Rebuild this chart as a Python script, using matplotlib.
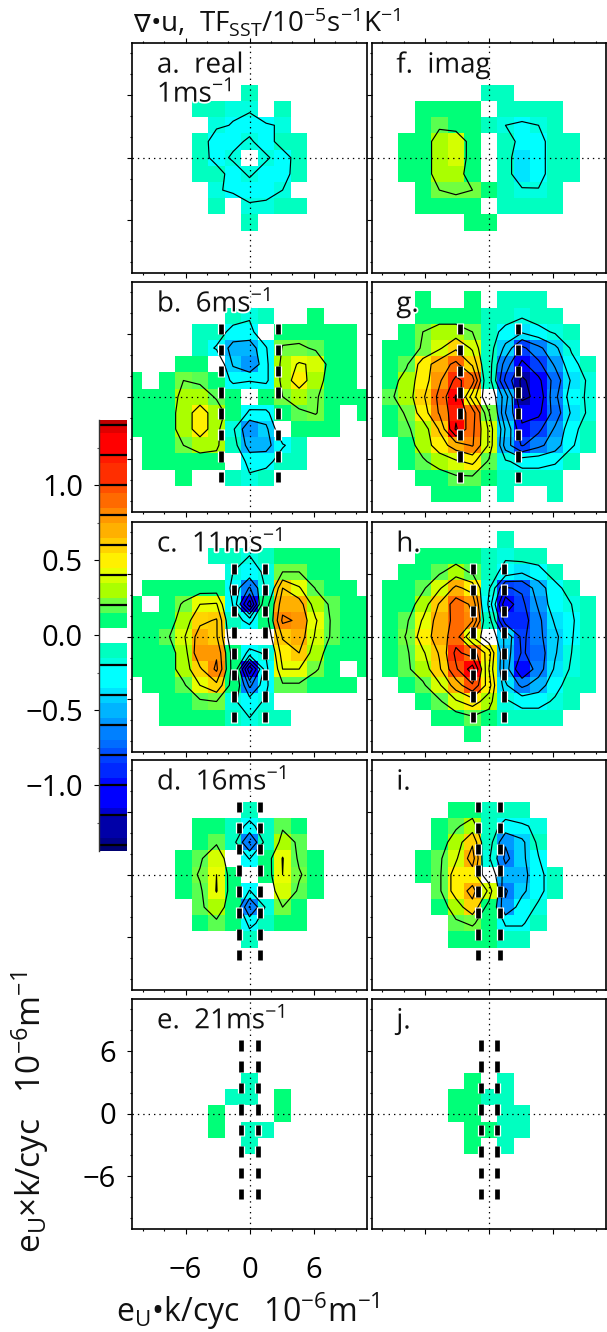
import numpy as np
import matplotlib
matplotlib.use("Agg")
import matplotlib.pyplot as plt
import matplotlib.patheffects as pe
from matplotlib.colors import ListedColormap, BoundaryNorm

W, H = 607, 1332
plt.rcParams['font.family'] = ['Open Sans', 'DejaVu Sans']
plt.rcParams['mathtext.fontset'] = 'custom'
plt.rcParams['mathtext.rm'] = 'Open Sans'
plt.rcParams['mathtext.default'] = 'regular'

# wavenumber bins, one per cell, -7..7 times the bin width
bin_index = [-7, -6, -5, -4, -3, -2, -1, 0, 1, 2, 3, 4, 5, 6, 7]
bin_width = 1.55
empty = [0] * 15

# cell values in 0.01 units, rows from top (+7) to bottom (-7)
panel_a = [empty, empty, empty,
           [0, 0, 0, 0, 0, 0, 0, -10, 0, 0, 0, 0, 0, 0, 0],
           [0, 0, 0, 0, -10, -10, -17, -18, 0, -10, 0, 0, 0, 0, 0],
           [0, 0, 0, 0, 0, -17, -21, -27, -23, -17, 0, 0, 0, 0, 0],
           [0, 0, 0, 0, -10, -30, -25, -17, -30, -10, -10, 0, 0, 0, 0],
           [0, 0, 0, 0, -10, -28, -17, 0, -17, -30, -10, 0, 0, 0, 0],
           [0, 0, 0, 0, -10, -10, -30, -17, -30, -28, -10, 0, 0, 0, 0],
           [0, 0, 0, 0, 0, -17, -25, -30, -25, -20, 0, 0, 0, 0, 0],
           [0, 0, 0, 0, 0, -10, 0, -17, -17, -10, -10, 0, 0, 0, 0],
           [0, 0, 0, 0, 0, 0, 0, -10, 0, 0, 0, 0, 0, 0, 0],
           empty, empty, empty]
panel_f = [empty, empty, empty,
           [0, 0, 0, 0, 0, 0, 0, -10, -10, 0, 0, 0, 0, 0, 0],
           [0, 0, 0, 10, 10, 10, 10, 0, -10, -10, -10, -10, 0, 0, 0],
           [0, 0, 0, 10, 17, 10, 10, -10, -20, -23, -20, -10, 0, 0, 0],
           [0, 0, 10, 10, 29, 37, 10, 0, -10, -27, -27, -10, -10, 0, 0],
           [0, 0, 10, 10, 29, 37, 10, 0, -10, -37, -27, -10, -10, 0, 0],
           [0, 0, 10, 10, 29, 29, 10, 0, -10, -37, -27, -10, -10, 0, 0],
           [0, 0, 0, 10, 20, 24, 20, 10, -10, -17, -19, -10, 0, 0, 0],
           [0, 0, 0, 10, 10, 10, 10, 0, -10, -10, -10, -10, 0, 0, 0],
           [0, 0, 0, 0, 0, 0, 10, 10, 0, 0, 0, 0, 0, 0, 0],
           empty, empty, empty]
panel_b = [empty, empty,
           [0, 0, 0, 0, 0, 0, -10, -17, -10, 0, 0, 10, 0, 0, 0],
           [0, 0, 0, 0, -10, -10, -27, -27, 0, 10, 10, 10, 10, 10, 0],
           [0, 0, 0, 0, -10, -22, -48, -52, -22, 22, 24, 17, 10, 10, 0],
           [0, 0, 0, 10, 10, 0, -42, -58, -27, 29, 42, 37, 10, 10, 0],
           [10, 0, 10, 20, 17, 10, -27, -21, -27, 29, 50, 29, 10, 10, 0],
           [10, 10, 10, 25, 29, 18, 10, 0, 10, 20, 29, 22, 10, 10, 10],
           [10, 10, 10, 29, 50, 29, 10, -25, -27, 10, 17, 21, 10, 0, 10],
           [10, 10, 10, 29, 50, 29, -17, -58, -45, 0, 10, 10, 10, 0, 0],
           [0, 10, 10, 20, 29, 25, -10, -50, -48, -22, -10, 0, 0, 0, 0],
           [0, 10, 10, 10, 10, 10, 0, -27, -27, -10, -10, 0, 0, 0, 0],
           [0, 0, 0, 10, 0, 0, -10, -17, -10, 0, 0, 0, 0, 0, 0],
           empty, empty]
panel_g = [empty,
           [0, 0, 0, 10, 0, 0, 10, 0, -10, -10, -10, 0, 0, 0, 0],
           [0, 0, 0, 10, 10, 10, 10, -10, -10, -17, -10, -10, 0, 0, 0],
           [0, 0, 10, 20, 29, 29, 20, -10, -27, -37, -27, -17, -10, 0, 0],
           [0, 10, 10, 22, 37, 57, 37, -10, -45, -85, -65, -45, -17, 0, 0],
           [0, 10, 17, 50, 70, 85, 57, -10, -70, -105, -85, -57, -27, -10, 0],
           [0, 10, 29, 50, 77, 105, 90, -10, -85, -125, -105, -72, -37, -17, 0],
           [0, 17, 29, 57, 85, 122, 50, 0, -50, -125, -115, -65, -30, -17, 0],
           [0, 10, 22, 50, 82, 115, 90, 22, -60, -105, -105, -72, -37, -17, 0],
           [0, 10, 17, 29, 62, 123, 85, 37, -42, -97, -85, -57, -27, -10, 0],
           [0, 0, 10, 29, 50, 70, 82, 37, -50, -82, -65, -50, -22, -10, 0],
           [0, 0, 10, 17, 29, 37, 45, 17, -17, -27, -27, -22, -10, 0, 0],
           [0, 0, 0, 10, 10, 17, 17, 10, -10, -10, -10, -10, 0, 0, 0],
           [0, 0, 0, 0, 10, 10, 10, 0, -10, 0, 0, -10, 0, 0, 0],
           empty]
panel_c = [empty, empty,
           [0, 0, 0, 0, 0, -10, -10, -20, -10, 10, 10, 10, 10, 0, 0],
           [0, 0, 0, 0, 0, 0, -20, -27, -17, 20, 20, 10, 10, 0, 0],
           [0, 10, 10, 10, 10, 10, -27, -62, -17, 60, 42, 19, 10, 10, 0],
           [10, 0, 10, 22, 40, 42, -22, -112, 10, 72, 70, 29, 17, 10, 10],
           [10, 10, 10, 29, 55, 62, -10, -27, 10, 84, 77, 42, 17, 10, 10],
           [10, 10, 17, 37, 70, 62, 0, 0, 0, 62, 72, 37, 17, 10, 10],
           [10, 10, 10, 29, 77, 77, 10, -27, -17, 50, 60, 29, 10, 10, 10],
           [10, 10, 10, 29, 57, 84, 10, -115, -27, 40, 40, 22, 10, 0, 10],
           [0, 10, 10, 17, 40, 55, 10, -65, -25, 17, 17, 10, 10, 10, 0],
           [0, 0, 10, 10, 17, 20, -17, -30, -17, 0, 0, 0, 0, 0, 0],
           [0, 0, 10, 10, 10, 10, -10, -20, -10, -10, 0, 0, 0, 0, 0],
           empty, empty]
panel_h = [empty,
           [0, 0, 0, 0, 0, 0, 0, 0, -10, 0, 0, 0, 0, 0, 0],
           [0, 0, 0, 10, 10, 10, 10, -10, -17, -10, -10, 0, 0, 0, 0],
           [0, 0, 10, 10, 17, 29, 17, -10, -27, -37, -27, -10, 0, 0, 0],
           [0, 10, 10, 17, 37, 65, 52, -17, -82, -77, -50, -27, -10, 0, 0],
           [0, 10, 10, 29, 62, 90, 77, -27, -115, -85, -57, -27, -20, -10, 0],
           [0, 10, 17, 42, 70, 85, 82, -10, -90, -90, -65, -37, -22, -10, 0],
           [0, 10, 21, 50, 70, 90, 40, 0, -45, -85, -65, -45, -21, -10, 0],
           [0, 10, 17, 37, 62, 105, 90, 50, -50, -82, -72, -42, -20, -10, 0],
           [0, 10, 17, 29, 57, 97, 130, 40, -50, -100, -70, -37, -17, -10, 0],
           [0, 0, 10, 17, 37, 70, 97, 50, -37, -65, -50, -27, -10, -10, 0],
           [0, 0, 0, 10, 17, 37, 50, 29, -17, -27, -27, -17, -10, 0, 0],
           [0, 0, 0, 0, 10, 10, 17, 10, -10, -10, -10, -10, 0, 0, 0],
           [0, 0, 0, 0, 0, 0, 10, 0, 0, 0, 0, 0, 0, 0, 0],
           empty]
panel_d = [empty, empty, empty,
           [0, 0, 0, 0, 0, 0, 0, -10, 0, 0, 0, 0, 0, 0, 0],
           [0, 0, 0, 0, 10, 10, -10, -25, -10, 17, 10, 0, 0, 0, 0],
           [0, 0, 0, 0, 10, 17, -12, -62, -12, 29, 17, 0, 0, 0, 0],
           [0, 0, 0, 10, 17, 37, 0, -21, 10, 41, 17, 10, 0, 0, 0],
           [0, 0, 0, 10, 22, 40, 10, 0, 10, 40, 22, 10, 0, 0, 0],
           [0, 0, 0, 10, 17, 41, 10, -21, 0, 37, 17, 10, 0, 0, 0],
           [0, 0, 0, 0, 17, 29, 10, -62, -17, 20, 10, 0, 0, 0, 0],
           [0, 0, 0, 0, 10, 17, 10, -25, -12, 10, 10, 0, 0, 0, 0],
           [0, 0, 0, 0, 0, 0, 0, -10, 0, 0, 0, 0, 0, 0, 0],
           empty, empty, empty]
panel_i = [empty, empty, empty,
           [0, 0, 0, 0, 0, 10, 10, -10, -10, -10, 0, 0, 0, 0, 0],
           [0, 0, 0, 0, 10, 17, 29, -10, -27, -22, -17, 0, 0, 0, 0],
           [0, 0, 0, 0, 10, 30, 57, -10, -58, -45, -15, 0, 0, 0, 0],
           [0, 0, 0, 10, 17, 37, 70, -17, -65, -45, -21, 0, 0, 0, 0],
           [0, 0, 0, 10, 17, 50, 50, 0, -50, -48, -25, -10, 0, 0, 0],
           [0, 0, 0, 0, 17, 50, 65, 37, -62, -45, -25, -10, 0, 0, 0],
           [0, 0, 0, 0, 10, 29, 55, 10, -57, -30, -17, 0, 0, 0, 0],
           [0, 0, 0, 0, 0, 17, 22, 10, -22, -22, -10, 0, 0, 0, 0],
           [0, 0, 0, 0, 0, 10, 10, 10, -10, -10, 0, 0, 0, 0, 0],
           empty, empty, empty]
panel_e = [empty, empty, empty, empty, empty,
           [0, 0, 0, 0, 0, 0, 0, -10, 0, 0, 0, 0, 0, 0, 0],
           [0, 0, 0, 0, 0, 0, -10, -10, 0, 10, 0, 0, 0, 0, 0],
           [0, 0, 0, 0, 0, 10, 0, 0, 0, 10, 0, 0, 0, 0, 0],
           [0, 0, 0, 0, 0, 10, 0, -10, -10, 0, 0, 0, 0, 0, 0],
           [0, 0, 0, 0, 0, 0, 0, -10, 0, 0, 0, 0, 0, 0, 0],
           empty, empty, empty, empty, empty]
panel_j = [empty, empty, empty, empty, empty,
           [0, 0, 0, 0, 0, 0, 10, 0, -10, 0, 0, 0, 0, 0, 0],
           [0, 0, 0, 0, 0, 10, 10, -10, -10, 0, 0, 0, 0, 0, 0],
           [0, 0, 0, 0, 0, 10, 10, 0, -10, -10, 0, 0, 0, 0, 0],
           [0, 0, 0, 0, 0, 0, 10, 10, -10, -10, 0, 0, 0, 0, 0],
           [0, 0, 0, 0, 0, 0, 10, 0, -10, 0, 0, 0, 0, 0, 0],
           empty, empty, empty, empty, empty]

left_labels = ['a.  real', 'b.  6ms$^{-1}$', 'c.  11ms$^{-1}$', 'd.  16ms$^{-1}$', 'e.  21ms$^{-1}$']
right_labels = ['f.  imag', 'g.', 'h.', 'i.', 'j.']
left_panels = [panel_a, panel_b, panel_c, panel_d, panel_e]
right_panels = [panel_f, panel_g, panel_h, panel_i, panel_j]
# |k| of the thick dashed lines per wind speed row, None for no lines
cut_k = [None, 2.68, 1.45, 1.0, 0.78]
dash_y = [-7.7, -5.7, -3.65, -1.6, 0.4, 2.44, 4.48, 6.5]

# colour bands of width 0.05, from 0.05 outwards
pos_colors = ['#00ff78', '#00ff78', '#5aff50', '#70ff40', '#aaff00', '#aaff00', '#d4ff00',
              '#e8ff00', '#fff000', '#fff000', '#ffd400', '#ffcc00', '#ffb000', '#ffb000',
              '#ff9800', '#ff8800', '#ff6a00', '#ff6a00', '#ff5000', '#ff2e00', '#ff2e00',
              '#ff2e00', '#ff1a00', '#ff0000', '#ff0000', '#ff0000', '#e00000', '#c00000']
neg_colors = ['#00ffc0', '#00ffc0', '#00ffe0', '#00ffff', '#00ffff', '#00ffff', '#00e4ff',
              '#00d0ff', '#00b4ff', '#00b4ff', '#0098ff', '#0080ff', '#0080ff', '#006cff',
              '#0050ff', '#0040ff', '#0028ff', '#0028ff', '#0008ff', '#0000ff', '#0000ff',
              '#0000ff', '#0000d0', '#0000a8', '#0000a8', '#0000a8', '#000088', '#000070']
band_edges = np.round(np.arange(-1.45, 1.4501, 0.05), 2)
band_edges = band_edges[np.abs(band_edges) > 0.001]
cmap = ListedColormap(neg_colors[::-1] + ['white'] + pos_colors)
norm = BoundaryNorm(band_edges, cmap.N)
contour_levels = [-1.4, -1.2, -1.0, -0.8, -0.6, -0.4, -0.2, 0.2, 0.4, 0.6, 0.8, 1.0, 1.2, 1.4]

col_left = [132.3, 371.7]
row_top = [42.7, 281.7, 521.7, 759.7, 998.5]
panel_w, panel_h_px = 234.5, 230


def px_axes(fig, left, top, w, h):
    return fig.add_axes([left / W, 1 - (top + h) / H, w / W, h / H])


def draw_panel(ax, rows, label, cut, top_ticks=False):
    k = np.array(bin_index) * bin_width
    z = np.array(rows)[::-1] / 100
    ax.pcolormesh(k, k, z, cmap=cmap, norm=norm, shading='nearest', antialiased=False, zorder=1)
    ax.contour(k, k, z, levels=contour_levels, colors='k', linewidths=0.85, linestyles='solid', zorder=2)
    ax.axhline(0, color='k', lw=0.9, ls=(0, (1.1, 3.2)), zorder=3)
    ax.axvline(0, color='k', lw=0.9, ls=(0, (1.1, 3.2)), zorder=3)
    if cut is not None:
        for x in (-cut, cut):
            for y in dash_y:
                ax.plot([x, x], [y - 0.52, y + 0.52], color='white', lw=5.2, solid_capstyle='butt', zorder=4)
                ax.plot([x, x], [y - 0.5, y + 0.5], color='k', lw=3.4, solid_capstyle='butt', zorder=5)
    ax.set_xlim(-11, 11)
    ax.set_ylim(-11, 11)
    ax.set_xticks([-6, 0, 6])
    ax.set_yticks([-6, 0, 6])
    ax.set_xticks([-10, -8, -4, -2, 2, 4, 8, 10], minor=True)
    ax.set_yticks([-10, -8, -4, -2, 2, 4, 8, 10], minor=True)
    ax.tick_params(which='major', length=3.6, width=0.8, top=top_ticks, labelbottom=False, labelleft=False)
    ax.tick_params(which='minor', length=1.5, width=0.8, top=top_ticks)
    for s in ax.spines.values():
        s.set_linewidth(1.2)
    ax.text(0.105, 0.87, label, transform=ax.transAxes, fontsize=20, color='#111111', zorder=6,
            path_effects=[pe.withStroke(linewidth=2.5, foreground='white')])


fig = plt.figure(figsize=(W / 100, H / 100), dpi=100)
axes = []
for r in range(5):
    ax = px_axes(fig, col_left[0], row_top[r], panel_w, panel_h_px)
    draw_panel(ax, left_panels[r], left_labels[r], cut_k[r], top_ticks=(r == 0))
    axes.append(ax)
    ax2 = px_axes(fig, col_left[1], row_top[r], panel_w, panel_h_px)
    draw_panel(ax2, right_panels[r], right_labels[r], cut_k[r], top_ticks=(r == 0))

axes[0].text(0.105, 0.743, '1ms$^{-1}$', transform=axes[0].transAxes, fontsize=20, color='#111111', zorder=6,
             path_effects=[pe.withStroke(linewidth=2.5, foreground='white')])

# tick labels only on the bottom left panel
ax_e = axes[4]
ax_e.tick_params(axis='x', which='major', labelbottom=True, labelsize=21, pad=16)
ax_e.tick_params(axis='y', which='major', labelleft=True, labelsize=21, pad=8)
ax_e.set_xticklabels(['\u22126', '0', '6'])
ax_e.set_yticklabels(['\u22126', '0', '6'])

# colour bar
cax = px_axes(fig, 99.3, 420, 27.7, 430.7)
bar_edges = np.array([-1.435] + [e for e in band_edges if -1.435 < e < 1.435] + [1.435])
bar_values = (bar_edges[:-1] + bar_edges[1:]) / 2
cax.pcolormesh([0, 1], bar_edges, bar_values[:, None], cmap=cmap, norm=norm, shading='flat', antialiased=False)
cax.hlines(contour_levels, 0, 1, color='k', lw=1.6)
cax.set_xlim(0, 1)
cax.set_ylim(-1.435, 1.435)
cax.set_xticks([])
cax.set_yticks([-1.0, -0.5, 0.0, 0.5, 1.0])
cax.set_yticklabels(['\u22121.0', '\u22120.5', '0.0', '0.5', '1.0'])
cax.set_yticks([-1.25, -0.75, -0.25, 0.25, 0.75, 1.25], minor=True)
cax.tick_params(which='major', length=3.8, width=0.8, labelsize=21, pad=8)
cax.tick_params(which='minor', length=1.6, width=0.8, color='#555555')
for side in ('top', 'right', 'bottom'):
    cax.spines[side].set_visible(False)
cax.spines['left'].set_linewidth(1.0)
cax.spines['left'].set_color('#333333')

# the nabla is missing from Open Sans, so it gets its own text
fig.text(133 / W, 1 - 31 / H, '\u2207', family='DejaVu Sans', fontsize=18, color='#111111')
fig.text(150 / W, 1 - 31 / H, '•u,  TF$_{SST}$/10$^{-5}$s$^{-1}$K$^{-1}$', fontsize=20, color='#111111')
fig.text(248 / W, 1 - 1311 / H, 'e$_U$•k/cyc   10$^{-6}$m$^{-1}$', fontsize=23, color='#111111',
         ha='center', va='center')
fig.text(30 / W, 1 - 1112 / H, 'e$_U$×k/cyc   10$^{-6}$m$^{-1}$', fontsize=24, color='#111111',
         ha='center', va='center', rotation=90)

fig.savefig('out.png', dpi=100)
